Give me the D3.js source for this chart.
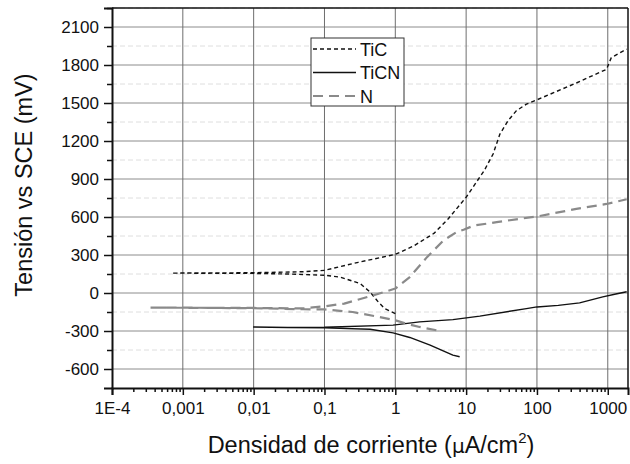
<!DOCTYPE html>
<html>
<head>
<meta charset="utf-8">
<script src="https://cdn.jsdelivr.net/npm/d3@7"></script>
<style>
  body { margin: 0; background: #fff; }
  svg text { font-family: "Liberation Sans", Arial, sans-serif; fill: #111; }
</style>
</head>
<body>
<div id="chart"></div>
<script>
// polarization curves, points ordered from cathodic end -> Ecorr -> anodic end
var ticCurrent = [1.0, 0.71, 0.575, 0.44, 0.32, 0.165, 0.1, 0.03, 0.01, 0.0007,
  0.01, 0.05, 0.1, 0.3, 1, 1.8, 3.5, 5.6, 10, 18, 24, 30, 39, 51, 71, 100, 360, 960, 1120, 1640, 1850];
var ticPotential = [-162, -123, -71, 8, 74, 126, 140, 150, 155, 157,
  160, 168, 179, 242, 305, 370, 470, 586, 756, 966, 1097, 1255, 1360, 1438, 1491, 1525, 1658, 1766, 1858, 1910, 1925];

var ticnCurrent = [8.1, 6.5, 3.1, 1.6, 0.93, 0.44, 0.1, 0.03, 0.01,
  0.03, 0.1, 0.93, 2.2, 6.5, 15.6, 71, 100, 200, 400, 850, 1300, 1850];
var ticnPotential = [-503, -490, -412, -351, -315, -286, -275, -272, -268,
  -272, -270, -254, -228, -210, -183, -123, -110, -98, -78, -31, -8, 10];

var nCurrent = [3.8, 2.2, 1.6, 1.0, 0.6, 0.25, 0.1, 0.05, 0.01, 0.00035,
  0.01, 0.05, 0.1, 0.19, 0.55, 1.0, 1.6, 2.8, 4.8, 7.3, 9.2, 13, 27, 57, 100, 360, 960, 1850];
var nPotential = [-294, -268, -250, -215, -190, -150, -130, -128, -120, -115,
  -118, -122, -105, -84, -10, 35, 126, 283, 415, 480, 500, 533, 559, 586, 604, 664, 703, 740];

var xTickValues = [1e-4, 1e-3, 1e-2, 1e-1, 1, 10, 100, 1000];
var xTickLabels = ["1E-4", "0,001", "0,01", "0,1", "1", "10", "100", "1000"];
var yTickValues = [-600, -300, 0, 300, 600, 900, 1200, 1500, 1800, 2100];
var seriesNames = ["TiC", "TiCN", "N"];

var width = 630, height = 464;
var plotLeft = 112, plotRight = 628, plotTop = 8, plotBottom = 388;

var svg = d3.select("#chart").append("svg")
  .attr("width", width)
  .attr("height", height);

var x = d3.scaleLog()
  .domain([1e-4, 1930])
  .range([plotLeft, plotRight]);

var y = d3.scaleLinear()
  .domain([-750, 2250])
  .range([plotBottom, plotTop]);

// minor positions
var yMinor = d3.range(-750, 2251, 150).filter(function(v) { return v % 300 !== 0 && v > -750; });
var xMinor = [];
for (var e = -4; e <= 3; e++) {
  for (var k = 2; k <= 9; k++) {
    var v = k * Math.pow(10, e);
    if (v <= 1930) xMinor.push(v);
  }
}

var grid = svg.append("g");

grid.selectAll(".yminor").data(yMinor).enter().append("line")
  .attr("x1", plotLeft).attr("x2", plotRight)
  .attr("y1", function(d) { return y(d); }).attr("y2", function(d) { return y(d); })
  .attr("stroke", "#dedede")
  .attr("stroke-dasharray", "5,3");

grid.selectAll(".ygrid").data(yTickValues).enter().append("line")
  .attr("x1", plotLeft).attr("x2", plotRight)
  .attr("y1", function(d) { return y(d); }).attr("y2", function(d) { return y(d); })
  .attr("stroke", "#8c8c8c");

grid.selectAll(".xgrid").data(xTickValues.slice(1)).enter().append("line")
  .attr("y1", plotTop).attr("y2", plotBottom)
  .attr("x1", function(d) { return x(d); }).attr("x2", function(d) { return x(d); })
  .attr("stroke", "#6e6e6e");

// curves
function zipSeries(a, b) {
  return a.map(function(v, i) { return [v, b[i]]; });
}

var styles = [
  { stroke: "#111", width: 1.4, dash: "4,3" },
  { stroke: "#111", width: 1.4, dash: null },
  { stroke: "#8a8a8a", width: 2.2, dash: "10,6" }
];

var seriesData = [
  zipSeries(ticCurrent, ticPotential),
  zipSeries(ticnCurrent, ticnPotential),
  zipSeries(nCurrent, nPotential)
];

var plotLine = d3.line()
  .x(function(d) { return x(d[0]); })
  .y(function(d) { return y(d[1]); });

seriesData.forEach(function(data, i) {
  svg.append("path")
    .datum(data)
    .attr("fill", "none")
    .attr("stroke", styles[i].stroke)
    .attr("stroke-width", styles[i].width)
    .attr("stroke-dasharray", styles[i].dash)
    .attr("stroke-linejoin", "round")
    .attr("d", plotLine);
});

// axes
var xAxis = d3.axisBottom(x)
  .tickValues(xTickValues)
  .tickFormat(function(d, i) { return xTickLabels[i]; })
  .tickSize(7)
  .tickPadding(7);

var gx = svg.append("g")
  .attr("transform", "translate(0," + plotBottom + ")")
  .call(xAxis);
gx.selectAll("text").style("font-size", "17px").attr("fill", "#111");

var gxMinor = svg.append("g")
  .attr("transform", "translate(0," + plotBottom + ")")
  .call(d3.axisBottom(x).tickValues(xMinor).tickFormat("").tickSize(4));
gxMinor.select(".domain").remove();

var yAxis = d3.axisLeft(y)
  .tickValues(yTickValues)
  .tickFormat(function(d) { return String(d); })
  .tickSize(8)
  .tickPadding(5);

var gy = svg.append("g")
  .attr("transform", "translate(" + plotLeft + ",0)")
  .call(yAxis);
gy.selectAll("text").style("font-size", "17px").attr("fill", "#111");

var gyMinor = svg.append("g")
  .attr("transform", "translate(" + plotLeft + ",0)")
  .call(d3.axisLeft(y).tickValues(yMinor).tickFormat("").tickSize(5));
gyMinor.select(".domain").remove();

svg.selectAll(".domain").attr("stroke", "#111").attr("stroke-width", 2);
svg.selectAll(".tick line").attr("stroke", "#111").attr("stroke-width", 1.5);

// frame top & right
svg.append("line").attr("x1", plotLeft).attr("x2", plotRight).attr("y1", plotTop).attr("y2", plotTop)
  .attr("stroke", "#111").attr("stroke-width", 1.5);
svg.append("line").attr("x1", plotRight).attr("x2", plotRight).attr("y1", plotTop).attr("y2", plotBottom)
  .attr("stroke", "#111").attr("stroke-width", 1.5);

// axis titles
svg.append("text")
  .attr("transform", "translate(32,185) rotate(-90)")
  .attr("text-anchor", "middle")
  .style("font-size", "23.5px")
  .text("Tensión vs SCE (mV)");

var xt = svg.append("text")
  .attr("x", 371)
  .attr("y", 453)
  .attr("text-anchor", "middle")
  .style("font-size", "23.5px");
xt.append("tspan").text("Densidad de corriente (");
xt.append("tspan").text("\u03bc").style("font-family", "'DejaVu Sans', sans-serif").style("font-size", "20px");
xt.append("tspan").text("A/cm");
xt.append("tspan").text("2").attr("dy", -10).style("font-size", "15px");
xt.append("tspan").text(")").attr("dy", 10);

// legend
var legend = svg.append("g").attr("transform", "translate(311,38)");
legend.append("rect")
  .attr("width", 93).attr("height", 68)
  .attr("fill", "#fff").attr("stroke", "#333").attr("stroke-width", 1);

seriesNames.forEach(function(name, i) {
  var ly = 11 + i * 23.5;
  legend.append("line")
    .attr("x1", 2).attr("x2", 45)
    .attr("y1", ly).attr("y2", ly)
    .attr("stroke", styles[i].stroke)
    .attr("stroke-width", styles[i].width)
    .attr("stroke-dasharray", styles[i].dash);
  legend.append("text")
    .attr("x", 49).attr("y", ly + 6.5)
    .style("font-size", "18px")
    .text(name);
});
</script>
</body>
</html>
